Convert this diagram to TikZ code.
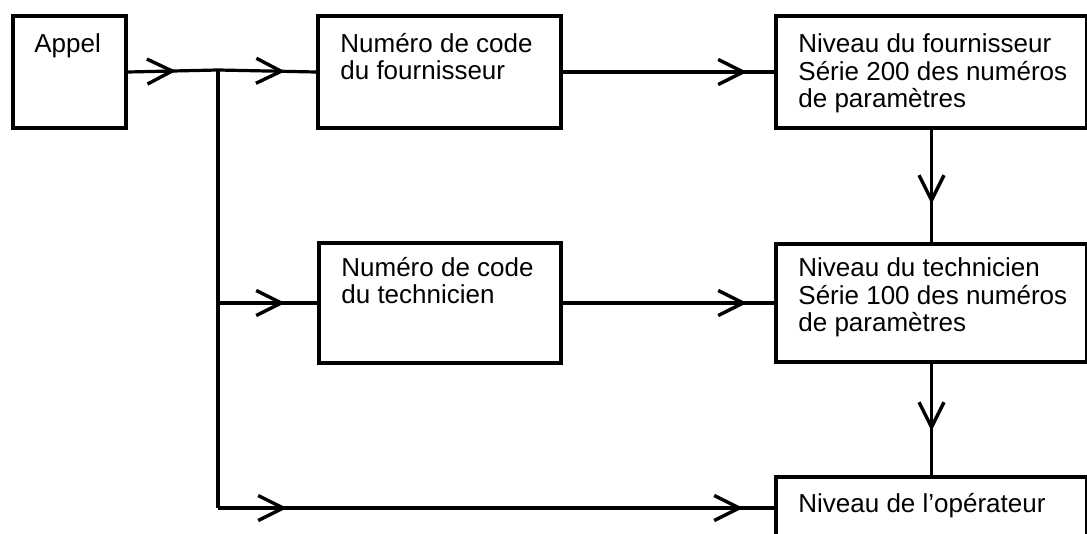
\documentclass[tikz,border=0pt]{standalone}
\usepackage{fontspec}
\setmainfont{Liberation Sans}
\usetikzlibrary{arrows.meta,decorations.markings}

\def\lignes#1{\begin{tabular}[t]{@{}l@{}}#1\end{tabular}}

\tikzset{
	cadre/.style={draw, line width=2pt, anchor=north west, inner sep=0pt},
	texte/.style={anchor=base west, inner sep=0pt, font=\fontsize{13pt}{13.25pt}\selectfont},
	fil/.style={line width=1.6pt},
	pointe/.style={postaction={decorate, decoration={markings, mark=at position #1 with {\arrow{Straight Barb[length=12.5pt,width=12.5pt,line width=1.7pt]}}}}},
}

\begin{document}
\begin{tikzpicture}[x=0.5pt, y=-0.5pt]
	\clip (0,0) rectangle (1087,534);
	\fill[white] (0,0) rectangle (1087,534);

	% boites
	\node[cadre, minimum width=56.5pt, minimum height=56pt] (appel) at (11,14) {};
	\node[cadre, minimum width=121.5pt, minimum height=56pt] (codef) at (316,14) {};
	\node[cadre, minimum width=155.5pt, minimum height=56pt] (nivf) at (774,14) {};
	\node[cadre, minimum width=121pt, minimum height=60pt] (codet) at (317,241) {};
	\node[cadre, minimum width=155.5pt, minimum height=59pt] (nivt) at (774,242) {};
	\node[cadre, minimum width=155.5pt, minimum height=60pt] (nivo) at (774,475) {};

	\node[texte] (tappel) at (34,53) {Appel};
	\node[texte] (tcodef) at (340,53) {\lignes{Numéro de code\\du fournisseur}};
	\node[texte] (tnivf) at (798,53) {\lignes{Niveau du fournisseur\\Série 200 des numéros\\de paramètres}};
	\node[texte] (tcodet) at (341,277) {\lignes{Numéro de code\\du technicien}};
	\node[texte] (tnivt) at (798,277) {\lignes{Niveau du technicien\\Série 100 des numéros\\de paramètres}};
	\node[texte] (tnivo) at (798,512) {Niveau de l’opérateur};

	\coordinate (branche) at (218,70);
	\coordinate (coin) at (218,508);

	% liaisons
	\draw[fil] (branche) -- (coin);
	\draw[fil, pointe=24pt] (appel.east) -- (branche);
	\draw[fil, pointe=33.5pt] (branche) -- (codef.west);
	\draw[fil, pointe=33.5pt] (branche |- codet.west) -- (codet.west);
	\draw[fil, pointe=34.5pt, pointe=262.5pt] (coin) -- (coin -| nivo.west);
	\draw[fil, pointe=92pt] (codef.east) -- (nivf.west);
	\draw[fil, pointe=92pt] (codet.east) -- (nivt.west);
	\draw[fil, pointe=37pt] (nivf.south) -- (nivt.north);
	\draw[fil, pointe=33.5pt] (nivt.south) -- (nivo.north);
\end{tikzpicture}
\end{document}
